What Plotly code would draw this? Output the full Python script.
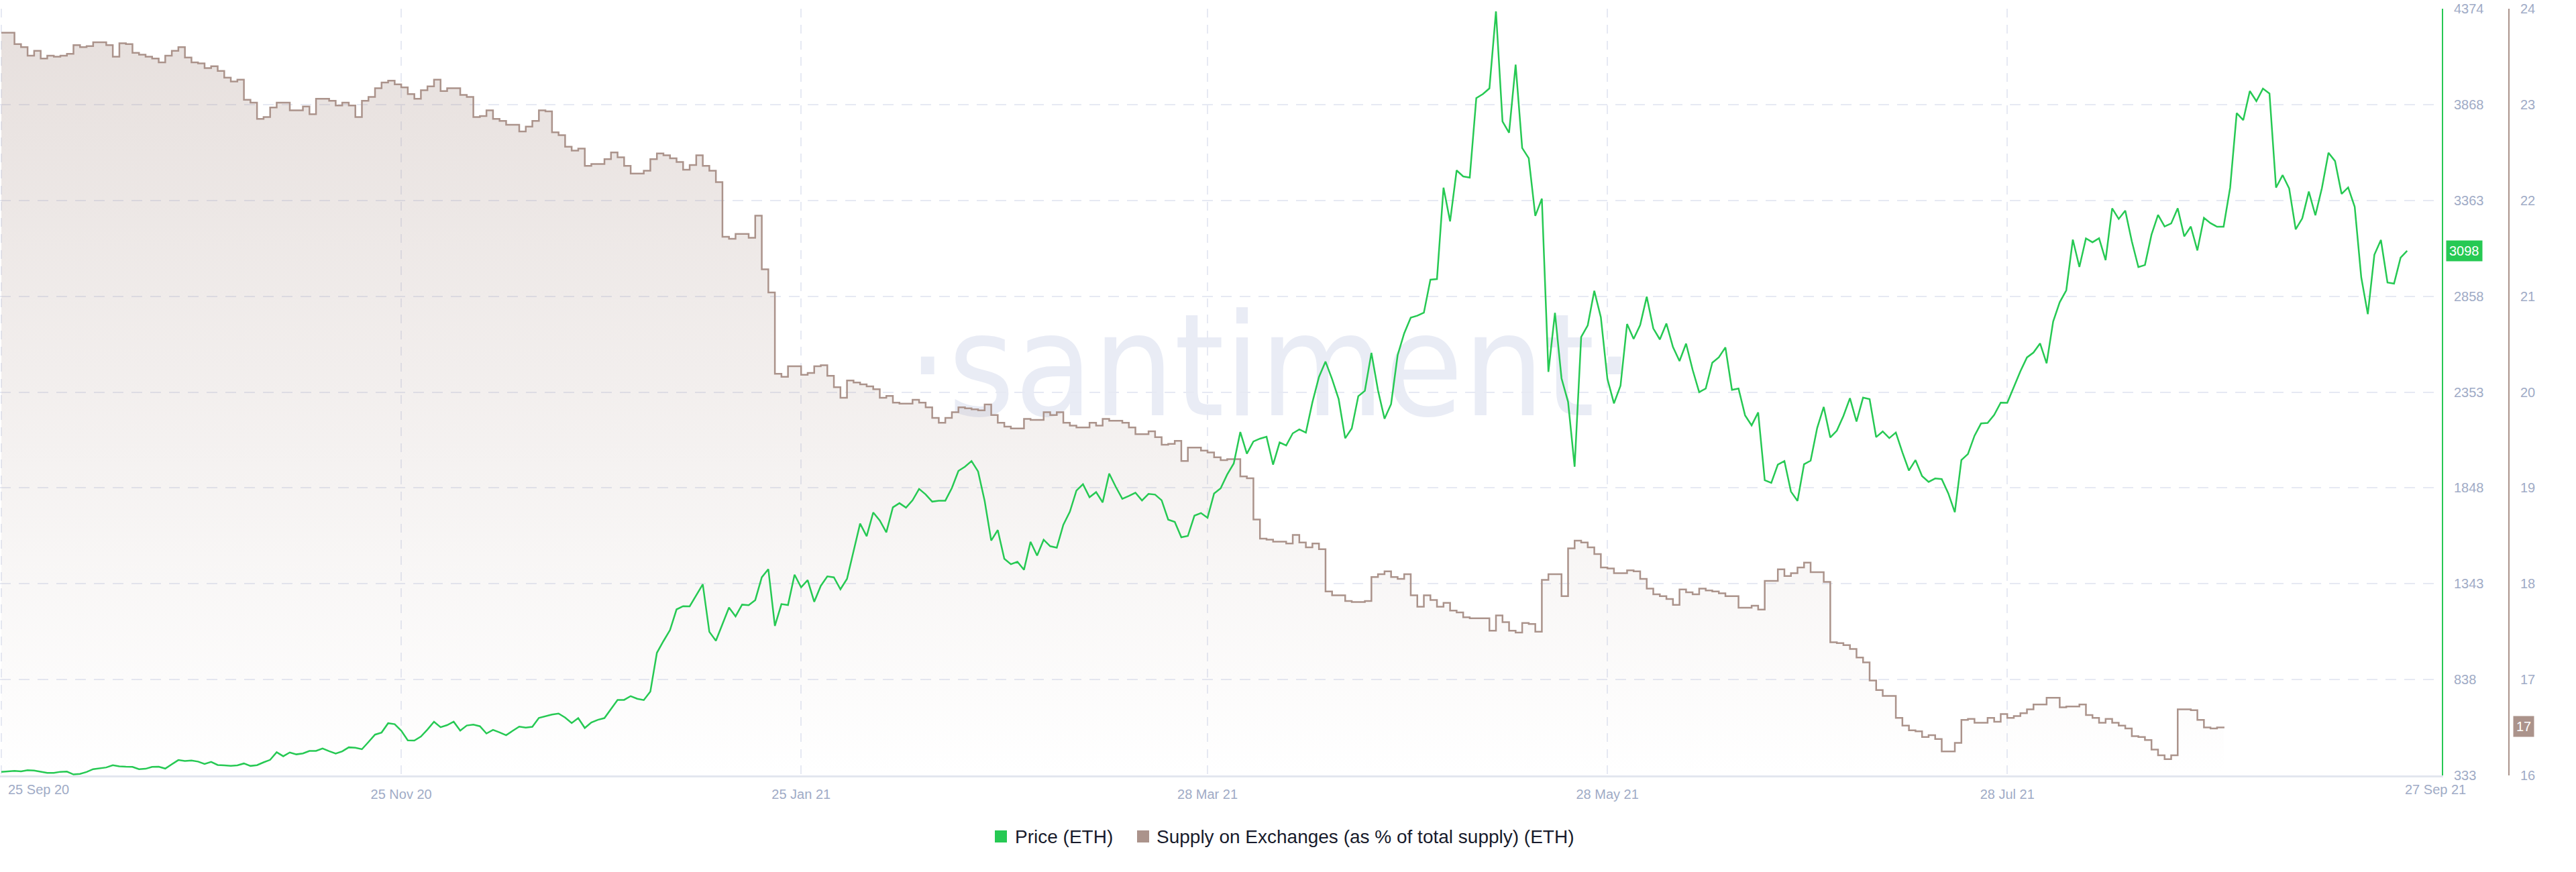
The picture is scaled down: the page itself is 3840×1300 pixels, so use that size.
import math
import pandas as pd
import plotly.graph_objects as go

# ---------------- data ----------------
price_start = "2020-09-25"
# daily ETH price (USD), 25 Sep 2020 -> 27 Sep 2021
price_sep20 = [352, 354, 357, 354, 360, 359]
price_oct20 = [353, 346, 346, 352, 353, 338, 341, 351, 366, 371, 375, 387, 381, 379, 378, 366,
               368, 378, 379, 369, 392, 414, 409, 412, 406, 393, 404, 388, 386, 383, 386]
price_nov20 = [396, 383, 387, 402, 415, 455, 434, 454, 444, 449, 462, 462, 475, 461, 448, 460,
               481, 479, 471, 509, 548, 559, 608, 603, 569, 518, 517, 538, 575, 616]
price_dec20 = [587, 598, 616, 569, 596, 601, 592, 554, 573, 560, 545, 568, 590, 585, 589, 636,
               644, 654, 659, 638, 609, 635, 583, 612, 626, 635, 683, 731, 731, 751, 737]
price_jan21 = [730, 775, 979, 1041, 1099, 1208, 1225, 1224, 1281, 1340, 1090, 1043, 1130, 1218,
               1171, 1233, 1230, 1257, 1377, 1420, 1121, 1236, 1231, 1391, 1324, 1362, 1248,
               1332, 1382, 1377, 1314]
price_feb21 = [1369, 1515, 1660, 1594, 1719, 1677, 1614, 1746, 1768, 1744, 1783, 1843, 1814,
               1776, 1781, 1781, 1848, 1938, 1960, 1990, 1935, 1780, 1571, 1626, 1475, 1446,
               1459, 1417]
price_mar21 = [1564, 1492, 1575, 1541, 1533, 1654, 1723, 1834, 1868, 1799, 1826, 1772, 1924,
               1854, 1791, 1806, 1823, 1782, 1817, 1813, 1783, 1681, 1669, 1588, 1595, 1702,
               1716, 1691, 1819, 1846, 1919]
price_apr21 = [1977, 2143, 2029, 2093, 2108, 2118, 1971, 2088, 2072, 2136, 2157, 2140, 2300,
               2433, 2514, 2422, 2317, 2110, 2162, 2332, 2360, 2560, 2363, 2213, 2290, 2548,
               2663, 2746, 2756, 2772]
price_may21 = [2946, 2949, 3431, 3253, 3522, 3490, 3484, 3903, 3924, 3954, 4360, 3780, 3720,
               4079, 3640, 3586, 3282, 3373, 2460, 2771, 2426, 2302, 1960, 2644, 2705, 2887,
               2748, 2423, 2294, 2387, 2712]
price_jun21 = [2634, 2707, 2856, 2689, 2631, 2715, 2591, 2517, 2609, 2471, 2353, 2372, 2508,
               2537, 2589, 2365, 2372, 2231, 2178, 2246, 1889, 1875, 1971, 1990, 1829, 1780,
               1973, 1992, 2164, 2275]
price_jul21 = [2114, 2150, 2227, 2321, 2198, 2324, 2316, 2116, 2146, 2111, 2140, 2036, 1940,
               1995, 1911, 1880, 1898, 1895, 1820, 1720, 1995, 2027, 2123, 2188, 2191, 2233,
               2298, 2297, 2381, 2463, 2536]
price_aug21 = [2562, 2610, 2505, 2725, 2827, 2890, 3157, 3013, 3163, 3143, 3164, 3049, 3322,
               3266, 3310, 3148, 3012, 3023, 3183, 3287, 3226, 3242, 3322, 3174, 3226, 3100,
               3272, 3244, 3225, 3225, 3431]
price_sep21 = [3824, 3787, 3940, 3887, 3953, 3927, 3431, 3497, 3427, 3211, 3269, 3410, 3285,
               3429, 3615, 3571, 3398, 3432, 3330, 2958, 2764, 3077, 3155, 2931, 2925, 3062,
               3098]

supply_start = "2020-09-25"
# daily supply on exchanges, % of total ETH supply
supply_part1 = [23.75, 23.75, 23.63, 23.60, 23.51, 23.56, 23.48, 23.51, 23.50, 23.51, 23.53,
                23.62, 23.60, 23.61, 23.65, 23.65, 23.62, 23.50, 23.64, 23.63, 23.54, 23.52,
                23.50, 23.48, 23.44, 23.51, 23.56, 23.60, 23.49, 23.44, 23.43, 23.38, 23.40,
                23.35, 23.28, 23.24, 23.26, 23.05, 23.02, 22.85, 22.87, 22.97, 23.02, 23.02,
                22.94, 22.94, 22.98, 22.90, 23.06, 23.06, 23.04, 22.99, 23.02, 22.99, 22.87,
                23.04, 23.08, 23.17, 23.23, 23.25, 23.21, 23.18, 23.11, 23.06, 23.15, 23.19,
                23.26, 23.14, 23.17, 23.17, 23.10, 23.08, 22.87, 22.88, 22.94, 22.85, 22.83,
                22.79, 22.79, 22.72, 22.77, 22.83, 22.94, 22.93, 22.71, 22.68, 22.56, 22.52,
                22.54, 22.36, 22.38, 22.38, 22.43, 22.50, 22.45, 22.36, 22.28, 22.28, 22.31,
                22.43, 22.49, 22.47, 22.44, 22.40, 22.32, 22.37, 22.47, 22.36, 22.31, 22.19,
                21.62, 21.60, 21.65, 21.65, 21.61, 21.84, 21.28, 21.04]
supply_part2 = [20.19, 20.16, 20.27, 20.27, 20.18, 20.20, 20.27, 20.28, 20.17, 20.05, 19.94,
                20.12, 20.10, 20.08, 20.06, 20.03, 19.94, 19.96, 19.89, 19.88, 19.88, 19.92,
                19.89, 19.84, 19.73, 19.68, 19.73, 19.79, 19.84, 19.83, 19.82, 19.81, 19.87,
                19.76, 19.68, 19.64, 19.62, 19.62, 19.72, 19.71, 19.71, 19.79, 19.76, 19.79,
                19.68, 19.65, 19.63, 19.63, 19.68, 19.65, 19.72, 19.70, 19.70, 19.68, 19.63,
                19.56, 19.56, 19.59, 19.53, 19.45, 19.46, 19.49, 19.28, 19.42, 19.42, 19.39,
                19.37, 19.32, 19.29, 19.30, 19.30, 19.12, 19.10, 18.67, 18.47, 18.46, 18.44,
                18.44, 18.42, 18.51, 18.43, 18.38, 18.42, 18.36, 17.92, 17.88, 17.88, 17.82,
                17.81, 17.81, 17.82, 18.07, 18.10, 18.13, 18.07, 18.05, 18.10, 17.88, 17.76,
                17.88, 17.83, 17.76, 17.80, 17.72, 17.70, 17.65, 17.64, 17.64, 17.64, 17.51,
                17.67, 17.60, 17.51, 17.49, 17.59, 17.58, 17.50]
supply_part3 = [18.04, 18.10, 18.10, 17.87, 18.37, 18.45, 18.43, 18.38, 18.31, 18.17, 18.16,
                18.11, 18.11, 18.14, 18.13, 18.05, 17.95, 17.89, 17.87, 17.84, 17.78, 17.94,
                17.91, 17.89, 17.95, 17.93, 17.92, 17.90, 17.87, 17.87, 17.75, 17.75, 17.77,
                17.73, 18.03, 18.03, 18.15, 18.08, 18.11, 18.17, 18.22, 18.12, 18.12, 18.02,
                17.39, 17.38, 17.36, 17.32, 17.23, 17.18, 16.99, 16.89, 16.83, 16.83, 16.60,
                16.52, 16.47, 16.46, 16.40, 16.42, 16.38, 16.25, 16.25, 16.34, 16.58, 16.59,
                16.55, 16.55, 16.60, 16.56, 16.64, 16.60, 16.62, 16.65, 16.69, 16.74, 16.74,
                16.81, 16.81, 16.71, 16.72, 16.72, 16.74, 16.63, 16.60, 16.55, 16.59, 16.55,
                16.52, 16.49, 16.41, 16.40, 16.37, 16.27, 16.21, 16.17, 16.21, 16.69, 16.69,
                16.68, 16.58, 16.50, 16.49, 16.50, 16.51]

price_ticks = [333, 838, 1343, 1848, 2353, 2858, 3363, 3868, 4374]
supply_ticks = [16, 17, 18, 19, 20, 21, 22, 23, 24]
date_ticks = ["2020-09-25", "2020-11-25", "2021-01-25", "2021-03-28", "2021-05-28", "2021-07-28"]
date_labels = ["", "25 Nov 20", "25 Jan 21", "28 Mar 21", "28 May 21", "28 Jul 21"]
edge_labels = ["25 Sep 20", "27 Sep 21"]
series_names = ["Price (ETH)", "Supply on Exchanges (as % of total supply) (ETH)"]
watermark = "·santiment·"

price_eth = (price_sep20 + price_oct20 + price_nov20 + price_dec20 + price_jan21 + price_feb21
             + price_mar21 + price_apr21 + price_may21 + price_jun21 + price_jul21
             + price_aug21 + price_sep21)
supply_pct = supply_part1 + supply_part2 + supply_part3

price_dates = pd.date_range(price_start, periods=len(price_eth), freq="D")
supply_dates = pd.date_range(supply_start, periods=len(supply_pct), freq="D")

# ---------------- style ----------------
W, H = 3840, 1300
GREEN = "#26c953"
BROWN = "#ab938b"
GRID = "#e6e9f3"
TICK = "#a0abc6"
TXT = "#181b2c"
FONT = "Liberation Sans, Arial, sans-serif"
PLOT_RIGHT = 3640
SUPPLY_AXIS_X = 3740
M_T, M_B = 13, 144
PH = H - M_T - M_B


def px_x(px):
    return px / W


def px_y(py):
    return (H - M_B - py) / PH


fig = go.Figure()

fig.add_trace(go.Scatter(
    x=supply_dates, y=supply_pct, name=series_names[1], yaxis="y",
    mode="lines", line=dict(color=BROWN, width=2.5, shape="hv"),
    fill="tozeroy",
    fillgradient=dict(type="vertical", start=16, stop=24,
                      colorscale=[[0, "rgba(172,148,140,0.0)"], [1, "rgba(172,148,140,0.30)"]]),
    showlegend=False, hoverinfo="skip"))

fig.add_trace(go.Scatter(
    x=price_dates, y=price_eth, name=series_names[0], yaxis="y2",
    mode="lines", line=dict(color=GREEN, width=2.5),
    showlegend=False))

tickfont = dict(family=FONT, size=20, color=TICK)

annotations = [
    dict(x=px_x(PLOT_RIGHT + 6), xref="paper", xanchor="left",
         y=price_eth[-1], yref="y2", yanchor="middle",
         text=f"{price_eth[-1]:.0f}", showarrow=False, bgcolor=GREEN,
         font=dict(family=FONT, size=20, color="white"), borderpad=4),
    dict(x=px_x(SUPPLY_AXIS_X + 6), xref="paper", xanchor="left",
         y=supply_pct[-1], yref="y", yanchor="middle",
         text=str(int(math.floor(supply_pct[-1] + 0.5))), showarrow=False, bgcolor=BROWN,
         font=dict(family=FONT, size=20, color="white"), borderpad=4),
    dict(x=px_x(10), xref="paper", xanchor="left", y=px_y(1177), yref="paper",
         yanchor="middle", text=edge_labels[0], showarrow=False, font=tickfont),
    dict(x=px_x(3630), xref="paper", xanchor="center", y=px_y(1177), yref="paper",
         yanchor="middle", text=edge_labels[1], showarrow=False, font=tickfont),
    dict(x=px_x(1511), xref="paper", xanchor="left", y=px_y(1247), yref="paper",
         yanchor="middle", text=series_names[0], showarrow=False,
         font=dict(family=FONT, size=28, color=TXT)),
    dict(x=px_x(1722), xref="paper", xanchor="left", y=px_y(1247), yref="paper",
         yanchor="middle", text=series_names[1], showarrow=False,
         font=dict(family=FONT, size=28, color=TXT)),
]

shapes = [
    dict(type="rect", xref="paper", yref="paper",
         x0=px_x(1483), x1=px_x(1501), y0=px_y(1256), y1=px_y(1238),
         fillcolor=GREEN, line=dict(width=0)),
    dict(type="rect", xref="paper", yref="paper",
         x0=px_x(1695), x1=px_x(1713), y0=px_y(1256), y1=px_y(1238),
         fillcolor=BROWN, line=dict(width=0)),
    dict(type="rect", xref="paper", yref="paper", layer="below",
         x0=px_x(1400), x1=px_x(2390), y0=px_y(685), y1=px_y(375),
         fillcolor="rgba(0,0,0,0)", line=dict(width=0),
         label=dict(text=watermark, textposition="middle center",
                    font=dict(family="Liberation Sans Narrow, DejaVu Sans Condensed, sans-serif",
                              size=212, color="#e9ecf5"))),
]

fig.update_layout(
    width=W, height=H, autosize=False,
    margin=dict(l=0, r=0, t=M_T, b=M_B, pad=0),
    paper_bgcolor="white", plot_bgcolor="white",
    showlegend=False,
    xaxis=dict(
        domain=[0, PLOT_RIGHT / W], type="date",
        range=["2020-09-24 19:00", "2021-10-02 07:00"],
        tickmode="array", tickvals=date_ticks, ticktext=date_labels,
        showgrid=True, gridcolor=GRID, gridwidth=2, griddash="13px,11px",
        showline=True, linecolor="#e3e6ef", linewidth=3,
        zeroline=False, ticks="", tickfont=tickfont, ticklabelstandoff=8,
    ),
    yaxis=dict(
        range=[16, 24], tickmode="array", tickvals=supply_ticks,
        side="right", anchor="free", position=SUPPLY_AXIS_X / W,
        showline=True, linecolor=BROWN, linewidth=2,
        showgrid=True, gridcolor=GRID, gridwidth=2, griddash="16px,12px",
        zeroline=False, ticks="", tickfont=tickfont, ticklabelstandoff=12,
    ),
    yaxis2=dict(
        range=[333, 4374], tickmode="array", tickvals=price_ticks,
        overlaying="y", side="right", anchor="x",
        showline=True, linecolor=GREEN, linewidth=2,
        showgrid=False, zeroline=False, ticks="", tickfont=tickfont,
        ticklabelstandoff=12,
    ),
    annotations=annotations,
    shapes=shapes,
)

fig.write_html("out.html")
